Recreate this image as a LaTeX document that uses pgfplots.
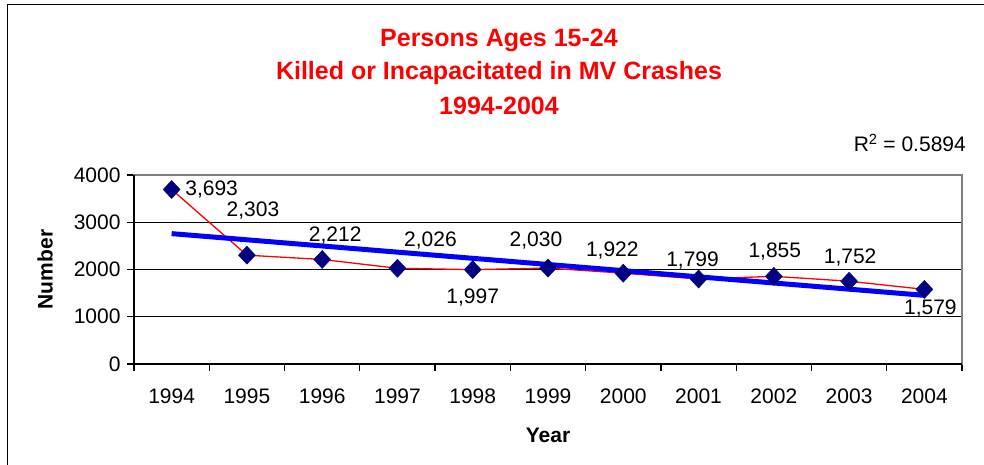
\documentclass[border=0pt]{standalone}
\usepackage{fontspec}
\setmainfont{Liberation Sans}
\usepackage{pgfplots}
\pgfplotsset{compat=1.18}
\usepackage{pgfplotstable}

\definecolor{navy}{RGB}{0,0,128}
\definecolor{trendblue}{RGB}{0,0,255}
\definecolor{titlered}{RGB}{255,0,0}

% x = category index (0 = 1994), dx/dy = label offset in bp
\pgfplotstableread{
x  y     lab    dx   dy
0  3693  3,693  40   0
1  2303  2,303  6    45
2  2212  2,212  13   24
3  2026  2,026  33   28
4  1997  1,997  0   -28
5  2030  2,030 -12   28
6  1922  1,922 -11   23
7  1799  1,799 -6    18
8  1855  1,855  1    25
9  1752  1,752  1    24
10 1579  1,579  6   -19
}\crashes

\begin{document}
\begin{tikzpicture}[x=1bp,y=1bp]
\useasboundingbox (0,0) rectangle (984,465);
\draw[black, line width=1.8bp] (7.5,0) -- (7.5,460.5) -- (984,460.5);

\node[titlered, font=\fontsize{25bp}{29bp}\selectfont\bfseries] at (499,425) {Persons Ages 15-24};
\node[titlered, font=\fontsize{25bp}{29bp}\selectfont\bfseries] at (499,392) {Killed or Incapacitated in MV Crashes};
\node[titlered, font=\fontsize{25bp}{29bp}\selectfont\bfseries] at (499,359) {1994-2004};
\node[anchor=base east, inner sep=0pt, font=\fontsize{21bp}{25bp}\selectfont] at (966,313) {R\textsuperscript{2} = 0.5894};

\begin{axis}[
    at={(134bp,101bp)}, anchor=south west,
    scale only axis,
    width=828bp, height=189bp,
    xmin=-0.5, xmax=10.5,
    ymin=0, ymax=4000,
    clip=false,
    axis line style={draw=gray, line width=1.6bp},
    xtick={-0.5,0.5,...,10.5},
    xticklabels={},
    extra x ticks={0,1,...,10},
    extra x tick labels={1994,1995,1996,1997,1998,1999,2000,2001,2002,2003,2004},
    extra x tick style={major tick length=0pt},
    ytick={0,1000,2000,3000,4000},
    tick align=outside,
    tick pos=left,
    major tick length=7bp,
    tick style={black, line width=1.3bp},
    ymajorgrids,
    grid style={black, line width=0.8bp},
    /pgf/number format/1000 sep={},
    /pgf/number format/assume math mode=true,
    ticklabel style={font=\fontsize{21bp}{25bp}\selectfont},
    xticklabel style={yshift=-21bp},
    yticklabel style={xshift=-3bp},
    xlabel={Year},
    ylabel={Number},
    label style={font=\fontsize{21bp}{25bp}\selectfont\bfseries},
    xlabel style={at={(axis description cs:0.5,0)}, anchor=center, yshift=-71bp},
    ylabel style={at={(axis description cs:0,0.5)}, anchor=center, xshift=0bp, yshift=89bp},
]
\addplot[red, line width=1.3bp, mark=diamond*, mark size=9bp,
    mark options={navy, fill=navy, line width=0.5bp, xscale=1.25},
    point meta=explicit symbolic,
    nodes near coords,
    visualization depends on={\thisrow{dx} \as \dx},
    visualization depends on={\thisrow{dy} \as \dy},
    every node near coord/.append style={anchor=center, xshift=\dx bp, yshift=\dy bp,
        black, inner sep=0pt, font=\fontsize{21bp}{25bp}\selectfont}]
    table[x=x, y=y, meta=lab] {\crashes};
% linear trendline (end points)
\addplot[trendblue, line width=5bp, no marks] coordinates {(0,2759) (10,1453)};
\draw[black, line width=1.6bp] (rel axis cs:0,1) -- (rel axis cs:0,0) -- (rel axis cs:1,0);
\end{axis}
\end{tikzpicture}
\end{document}
